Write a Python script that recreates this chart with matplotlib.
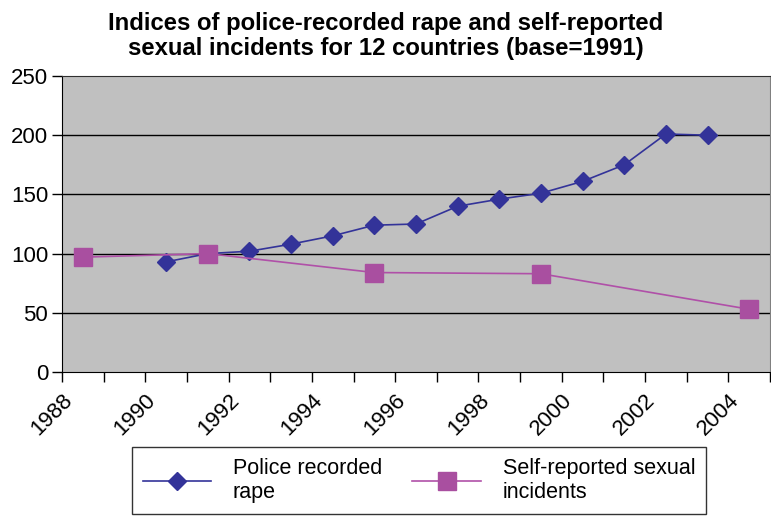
import matplotlib
matplotlib.use("Agg")
import matplotlib.pyplot as plt

plt.rcParams['font.family'] = ['Liberation Sans', 'DejaVu Sans']

# yearly index values (base 1991 = 100), plotted at the middle of each year
police_years = [1990, 1991, 1992, 1993, 1994, 1995, 1996, 1997, 1998, 1999, 2000, 2001, 2002, 2003]
police_values = [93, 100, 102, 108, 115, 124, 125, 140, 146, 151, 161, 175, 201, 200]

survey_years = [1988, 1991, 1995, 1999, 2004]
survey_values = [97, 100, 84, 83, 53]

year_ticks = list(range(1988, 2005, 2))

fig = plt.figure(figsize=(7.71, 5.16), dpi=100)
ax = fig.add_axes([62 / 771, 1 - 372 / 516, 708 / 771, 296 / 516])
ax.set_facecolor('#C0C0C0')

ax.plot([y + 0.5 for y in police_years], police_values, color='#333399', lw=1.2,
        marker='D', ms=9.5, mfc='#333399', mec='#333399', label='Police recorded\nrape', zorder=3)
ax.plot([y + 0.5 for y in survey_years], survey_values, color='#B050A8', lw=1.2,
        marker='s', ms=13, mfc='#A94FA0', mec='#A94FA0', label='Self-reported sexual\nincidents', zorder=4)

ax.set_xlim(1988, 2005)
ax.set_ylim(0, 250)
ax.set_yticks(range(0, 251, 50))
ax.set_xticks(range(1988, 2006))
ax.set_xticklabels([str(y) if y in year_ticks else '' for y in range(1988, 2006)],
                   rotation=45, ha='right', rotation_mode='anchor')
ax.tick_params(axis='both', direction='out', length=7, width=1, labelsize=16, colors='black')
ax.tick_params(axis='x', pad=6)
ax.tick_params(axis='y', pad=3)

for v in range(50, 250, 50):
    ax.axhline(v, color='black', lw=1, zorder=1)

ax.spines['left'].set_color('black')
ax.spines['bottom'].set_color('black')
ax.spines['top'].set_color('#303030')
ax.spines['right'].set_color('#808080')

fig.suptitle('Indices of police-recorded rape and self-reported\nsexual incidents for 12 countries (base=1991)',
             x=0.5, y=0.976, fontsize=17.2, fontweight='bold', linespacing=1.1)

leg = fig.legend(loc='lower center', bbox_to_anchor=(419 / 771, 0.0), ncol=2, fontsize=15.5,
                 frameon=True, fancybox=False, edgecolor='black', handlelength=3.2,
                 columnspacing=1.4, borderpad=0.5, handletextpad=1.0, labelspacing=0.2,
                 borderaxespad=0.1)
leg.get_frame().set_linewidth(1)

fig.savefig('out.png', dpi=100)
